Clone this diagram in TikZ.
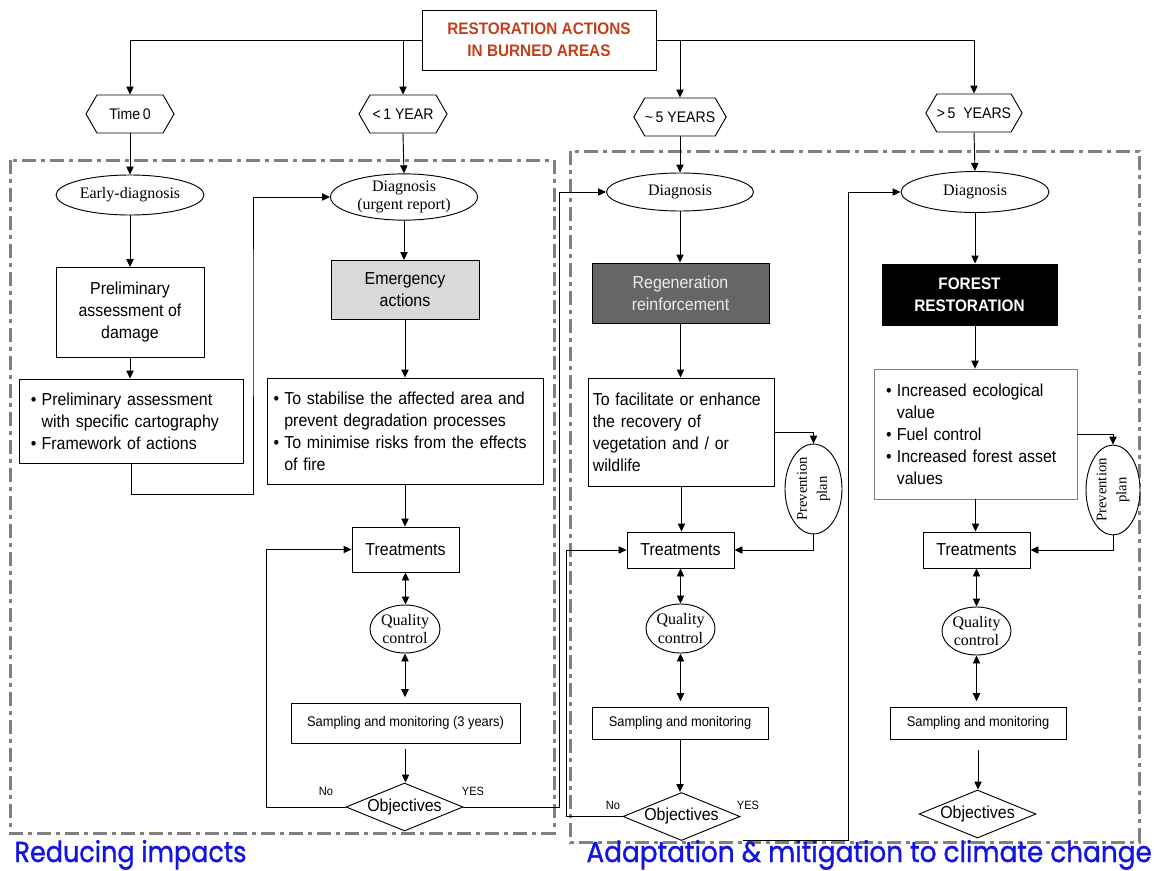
\documentclass[tikz,border=0pt]{standalone}
\usepackage{fontspec}
\setmainfont{Liberation Serif}
\newfontfamily\ar[FakeStretch=0.92]{Liberation Sans}
\newfontfamily\cm[FakeBold=1.2]{Poppins}
\usetikzlibrary{arrows.meta,shapes.geometric,shapes.symbols}
\definecolor{ttl}{RGB}{196,62,28}
\definecolor{blu}{RGB}{20,20,225}
\definecolor{brd}{RGB}{128,128,128}
\definecolor{lgray}{RGB}{217,217,217}
\definecolor{dgray}{RGB}{102,102,102}
\newcommand\bu{\makebox[8pt][l]{•}}
\newcommand\hi{\hspace*{8pt}}
\begin{document}
\begin{tikzpicture}[x=0.75pt,y=-0.75pt,line width=0.7pt,
  >={Triangle[length=6pt,width=5.5pt]},
  box/.style={draw,fill=white,inner sep=0pt,align=center,font=\ar\fontsize{13pt}{16.5pt}\selectfont},
  ell/.style={ellipse,draw,fill=white,inner sep=0pt,align=center,font=\fontsize{12pt}{14pt}\selectfont},
  hexa/.style={signal,signal to=west and east,signal pointer angle=120,draw,fill=white,inner sep=0pt,
    minimum width=66pt,minimum height=28.5pt,font=\ar\fontsize{11.5pt}{12pt}\selectfont},
  dia/.style={diamond,aspect=2.4,draw,fill=white,inner sep=0pt,minimum width=87.75pt,minimum height=36pt,
    font=\ar\fontsize{13pt}{15pt}\selectfont},
  prev/.style={ellipse,draw,fill=white,inner sep=0pt,rotate=90,align=center,minimum width=66pt,
    font=\fontsize{11pt}{15pt}\selectfont},
  lbl/.style={inner sep=0pt,font=\ar\fontsize{9pt}{10pt}\selectfont},
  zone/.style={draw=brd,line width=2.25pt,dash pattern=on 10.5pt off 3.75pt on 3pt off 3.75pt}
]
\useasboundingbox (0,0) rectangle (1154,871);
\fill[white] (0,0) rectangle (1154,871);
% zones
\draw[zone] (10,160) rectangle (554,833);
\draw[zone] (570,151) rectangle (1139,842);
% top
\node[box,minimum width=175.5pt,minimum height=45pt,text=ttl,font=\ar\bfseries\fontsize{12.5pt}{16.5pt}\selectfont]
  (top) at (539,40) {RESTORATION ACTIONS\\IN BURNED AREAS};
\node[hexa] (h0) at (130,114) {Time\,0};
\node[hexa] (h1) at (403,114) {<\,1 YEAR};
\node[hexa] (h2) at (680,117) {\textasciitilde\,5 YEARS};
\node[hexa] (h3) at (974,113) {>\,5\ \ YEARS};
% column 1
\node[ell,minimum width=111pt,minimum height=30pt] (e0) at (130,195) {Early-diagnosis};
\node[box,minimum width=111pt,minimum height=67.5pt] (b0) at (130,312.5) {Preliminary\\assessment of\\damage};
\node[box,minimum width=168pt,minimum height=63pt,align=left,text width=150pt,inner xsep=9pt] (b1) at (131,421)
  {\bu Preliminary assessment\\\hi with specific cartography\\\bu Framework of actions};
% column 2
\node[ell,minimum width=110.25pt,minimum height=31.5pt] (e1) at (404,197) {Diagnosis\\(urgent report)};
\node[box,fill=lgray,minimum width=111pt,minimum height=44.25pt] (em) at (405,290) {Emergency\\actions};
\node[box,minimum width=207pt,minimum height=79.5pt,align=left,text width=197pt,inner xsep=5pt] (b2) at (405,431)
  {\bu To stabilise the affected area and\\\hi prevent degradation processes\\\bu To minimise risks from the effects\\\hi of fire};
\node[box,minimum width=80.25pt,minimum height=33.75pt] (t1) at (405.5,549.5) {Treatments};
\node[ell,minimum width=52.5pt,minimum height=36pt] (q1) at (405,629) {Quality\\control};
\node[box,minimum width=171.75pt,minimum height=30pt,font=\ar\fontsize{10.5pt}{12pt}\selectfont] (s1) at (405.5,723) {Sampling and monitoring (3 years)};
\node[dia] (o1) at (404.5,807) {Objectives};
\node[lbl] (no1) at (326,791) {No};
\node[lbl] (yes1) at (473,791) {YES};
% column 3
\node[ell,minimum width=110.25pt,minimum height=28.5pt] (e2) at (680,192) {Diagnosis};
\node[box,fill=dgray,text={rgb,255:red,235;green,235;blue,235},minimum width=132.75pt,minimum height=45pt] (rg) at (680.5,293) {Regeneration\\reinforcement};
\node[box,minimum width=138.75pt,minimum height=81pt,align=left,text width=133pt,inner xsep=3pt] (tx) at (681.5,432)
  {To facilitate or enhance\\the recovery of\\vegetation and / or\\wildlife};
\node[prev,minimum height=42.75pt] (p3) at (813.5,489) {Prevention\\plan};
\node[box,minimum width=80.25pt,minimum height=27pt] (t3) at (680.5,550) {Treatments};
\node[ell,minimum width=51.75pt,minimum height=36.75pt] (q3) at (680.5,628.5) {Quality\\control};
\node[box,minimum width=132pt,minimum height=24pt,font=\ar\fontsize{10.5pt}{12pt}\selectfont] (s3) at (680,723) {Sampling and monitoring};
\node[dia] (o3) at (681.5,816.5) {Objectives};
\node[lbl] (no3) at (613,805) {No};
\node[lbl] (yes3) at (748,805) {YES};
% column 4
\node[ell,minimum width=111pt,minimum height=30.75pt] (e3) at (975,192) {Diagnosis};
\node[box,fill=black,text=white,minimum width=131.25pt,minimum height=45.75pt,font=\ar\bfseries\fontsize{12.5pt}{16.5pt}\selectfont] (fr) at (969.5,294.5) {FOREST\\RESTORATION};
\node[box,draw=brd,line width=0.6pt,minimum width=152.25pt,minimum height=97.5pt,align=left,text width=134pt,inner xsep=9pt] (b4) at (975.5,434)
  {\bu Increased ecological\\\hi value\\\bu Fuel control\\\bu Increased forest asset\\\hi values};
\node[prev,minimum height=40.5pt] (p4) at (1113,490) {Prevention\\plan};
\node[box,minimum width=80.25pt,minimum height=27pt] (t4) at (976.5,550) {Treatments};
\node[ell,minimum width=51.75pt,minimum height=36pt] (q4) at (976.5,631) {Quality\\control};
\node[box,minimum width=132pt,minimum height=24pt,font=\ar\fontsize{10.5pt}{12pt}\selectfont] (s4) at (978,723) {Sampling and monitoring};
\node[dia] (o4) at (977.5,814) {Objectives};
% zone labels
\node[anchor=base west,inner sep=0pt,text=blu] (z1) at (14,862) {\resizebox{174pt}{16.5pt}{\cm Reducing impacts}};
\node[anchor=base west,inner sep=0pt,text=blu] (z2) at (586,862) {\resizebox{424pt}{16.5pt}{\cm Adaptation \& mitigation to climate change}};
% connectors top
\draw[->] (top.west) -| (h0.north);
\draw[->] (top.east) -| (h3.north);
\draw[->] (top.west -| h1.north) -- (h1.north);
\draw[->] (top.east -| h2.north) -- (h2.north);
% column 1
\draw[->] (h0.south) -- (e0.north);
\draw[->] (e0.south) -- (b0.north);
\draw[->] (b0.south) -- (b0.south |- b1.north);
\draw[->] (b1.south) -- ++(0,31) -| (253,300) |- (e1.west);
% column 2
\draw[->] (h1.south) -- (e1.north);
\draw[->] (e1.south) -- (e1.south |- em.north);
\draw[->] (em.south) -- (em.south |- b2.north);
\draw[->] (b2.south) -- (b2.south |- t1.north);
\draw[<->] (t1.south) -- (t1.south |- q1.north);
\draw[<->,shorten >=4pt] (q1.south) -- (q1.south |- s1.north);
\draw[->,shorten <=4pt] (s1.south) -- (s1.south |- o1.north);
\draw[->] (o1.west) -- ++(-79,0) |- (t1.west);
\draw[->] (o1.east) -- ++(96,0) |- (e2.west);
% column 3
\draw[->] (h2.south) -- (e2.north);
\draw[->] (e2.south) -- (e2.south |- rg.north);
\draw[->] (rg.south) -- (rg.south |- tx.north);
\draw[->] (tx.south) -- (tx.south |- t3.north);
\draw[->] (tx.east) -| (p3.east);
\draw[->] (p3.west) |- (t3.east);
\draw[<->] (t3.south) -- (t3.south |- q3.north);
\draw[<->,shorten >=4pt] (q3.south) -- (q3.south |- s3.north);
\draw[->] (s3.south) -- (s3.south |- o3.north);
\draw[->] (o3.west) -- ++(-56,0) |- (t3.west);
\coordinate (y3s) at (743,840);
\draw[->] (y3s) -- (848,840) |- (e3.west);
% column 4
\draw[->] (h3.south) -- (e3.north);
\draw[->] (e3.south) -- (e3.south |- fr.north);
\draw[->] (e3.south |- fr.south) -- (e3.south |- b4.north);
\draw[->] (b4.south) -- (b4.south |- t4.north);
\draw[->] (b4.east) -| (p4.east);
\draw[->] (p4.west) |- (t4.east);
\draw[<->] (t4.south) -- (t4.south |- q4.north);
\draw[<->,shorten >=4pt] (q4.south) -- (q4.south |- s4.north);
\draw[->,shorten <=8pt] (s4.south) -- (s4.south |- o4.north);
\end{tikzpicture}
\end{document}
